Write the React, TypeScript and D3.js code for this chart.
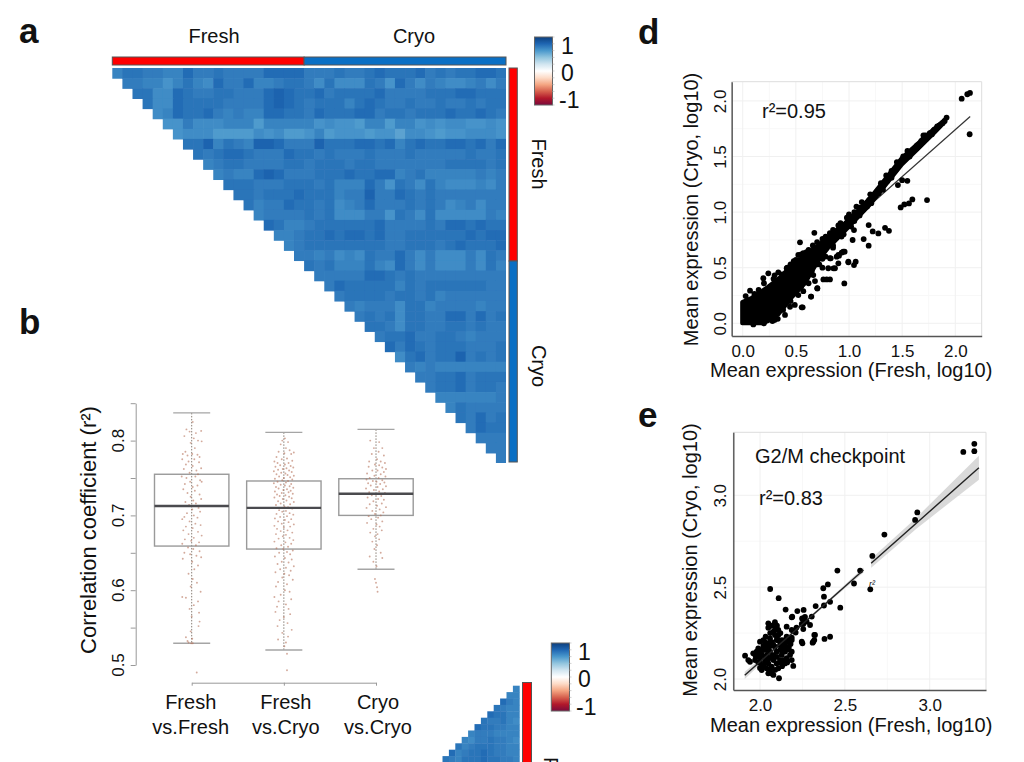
import React, { useEffect, useRef } from 'react';
import * as d3 from 'd3';

const FONT = '"Liberation Sans", Arial, sans-serif';

// heat levels: one digit per cell, 0 = strongest correlation, row r starts at column r
const freshCryoRows = [
  '422334413323333111133323321222132322112',
  '33446424513314432235255523613534554353',
  '2255123322333101221322221333322211222',
  '255122223333101232224212332332332322',
  '54122134344112231222113223222122123',
  '6635554447444446566744744656556656',
  '655577775657764766676685567665556',
  '22042340013330222112142122112131',
  '2321123331223233323332333332332',
  '432233332232223223333333222232',
  '43441013332221221143244444343',
  '2223332223244413623524555453',
  '223222122243303312323333333',
  '24331223254313332323543533',
  '4333323255533623525555534',
  '124432222221333323112122',
  '44322121121332222221211',
  '4322222222332223212221',
  '334354523313535553523',
  '23244424513535553524',
  '3333311232333333333',
  '312222242322222233',
  '32222322324333333',
  '3433352243333433',
  '323252233113132',
  '22352233223233',
  '3221332234333',
  '131232223332',
  '52132203232',
  '3434444444',
  '332213222',
  '32213223',
  '4444443',
  '423333',
  '23132',
  '3122',
  '333',
  '33',
  '3',
];
const secondRows = [
  '4',
  '44',
  '134',
  '2344',
  '12244',
  '233245',
  '1223344',
  '43334444',
  '453323345',
  '2432223344',
  '14322123344',
  '234222122334',
];
const groupLabels = ['Fresh', 'Cryo'];
const legendLabels = [1, 0, -1];
const colorStops = [-1, -0.8, -0.6, -0.4, -0.2, 0, 0.2, 0.4, 0.6, 0.8, 1];
const colorValues = ['#7a0a3c', '#b2182b', '#d6604d', '#f4a582', '#fddbc7', '#ffffff', '#d1e5f0', '#92c5de', '#4a98cc', '#1f66b2', '#0c3f7e'];

const boxNames = ['ff', 'fc', 'cc'];
const boxTop = ['Fresh', 'Fresh', 'Cryo'];
const boxBottom = ['vs.Fresh', 'vs.Cryo', 'vs.Cryo'];
const boxUpper = [0.837, 0.811, 0.815];
const boxQ3 = [0.755, 0.746, 0.749];
const boxMedian = [0.7126, 0.71, 0.729];
const boxQ1 = [0.659, 0.655, 0.7];
const boxLower = [0.529, 0.52, 0.628];

// [jitter, r2]
const ffPoints = [
  [0.1, 0.825], [-0.5, 0.815], [-0.2, 0.812], [0.4, 0.81], [0.9, 0.813], [-0.7, 0.806], [0.2, 0.803], [0.6, 0.8], [-0.1, 0.797], [0.95, 0.799],
  [0.3, 0.79], [-0.6, 0.785], [-0.85, 0.782], [-0.4, 0.78], [0.05, 0.782], [0.55, 0.781], [0.75, 0.778], [-0.9, 0.775], [-0.3, 0.772], [0.25, 0.775],
  [0.7, 0.771], [-0.55, 0.768], [0.1, 0.766], [0.9, 0.763], [-0.75, 0.762], [0.45, 0.76], [0.6, 0.755], [-0.2, 0.757], [-0.95, 0.752], [-0.5, 0.75],
  [0.35, 0.752], [0.8, 0.747], [0.95, 0.745], [-0.15, 0.745], [-0.65, 0.742], [0.1, 0.738], [0.55, 0.74], [-0.8, 0.735], [0.3, 0.733], [-0.4, 0.73],
  [0.75, 0.728], [-0.1, 0.725], [0.9, 0.722], [0.15, 0.72], [-0.6, 0.718], [0.4, 0.716], [-0.25, 0.714], [0.65, 0.71], [0.05, 0.708], [0.8, 0.705],
  [-0.45, 0.703], [0.2, 0.7], [-0.7, 0.698], [0.55, 0.697], [-0.9, 0.695], [-0.2, 0.692], [0.35, 0.689], [0.85, 0.687], [-0.55, 0.685], [0.1, 0.683],
  [-0.8, 0.68], [0.6, 0.678], [-0.3, 0.675], [0.95, 0.673], [0.2, 0.67], [-0.65, 0.668], [-0.05, 0.666], [0.7, 0.664], [-0.9, 0.662], [0.4, 0.66],
  [-0.35, 0.657], [0.15, 0.655], [0.75, 0.652], [-0.7, 0.65], [-0.15, 0.648], [0.45, 0.646], [0.9, 0.644], [-0.85, 0.642], [0.05, 0.638], [0.6, 0.633],
  [0.25, 0.628], [-0.3, 0.622], [0.1, 0.615], [0.5, 0.61], [-0.1, 0.605], [0.85, 0.598], [-0.55, 0.59], [-0.9, 0.591], [0.6, 0.585], [0.2, 0.58],
  [-0.2, 0.575], [0.7, 0.57], [0.0, 0.565], [0.75, 0.558], [0.65, 0.552], [-0.1, 0.545], [0.05, 0.535], [-0.55, 0.537], [-0.4, 0.532], [-0.3, 0.53],
  [0.1, 0.529], [-0.05, 0.529], [0.48, 0.49],
];
const fcPoints = [
  [0.1, 0.803], [-0.15, 0.8], [0.4, 0.798], [-0.3, 0.795], [0.2, 0.79], [0.55, 0.787], [-0.5, 0.785], [0.05, 0.783], [0.7, 0.782], [0.95, 0.784],
  [-0.7, 0.778], [0.3, 0.776], [-0.2, 0.775], [0.8, 0.773], [-0.9, 0.772], [0.45, 0.77], [-0.6, 0.77], [0.1, 0.768], [-0.35, 0.767], [0.65, 0.766],
  [-0.8, 0.765], [0.9, 0.764], [0.25, 0.763], [-0.1, 0.762], [-0.55, 0.761], [0.5, 0.76], [-0.95, 0.759], [0.75, 0.758], [-0.25, 0.757], [0.15, 0.756],
  [-0.7, 0.755], [0.35, 0.754], [0.95, 0.753], [-0.45, 0.752], [0.6, 0.751], [0.0, 0.75], [-0.85, 0.749], [0.8, 0.748], [-0.15, 0.747], [0.4, 0.746],
  [-0.6, 0.745], [0.2, 0.744], [-0.95, 0.743], [0.7, 0.742], [-0.3, 0.741], [0.1, 0.74], [0.55, 0.739], [-0.75, 0.738], [0.9, 0.737], [-0.5, 0.736],
  [0.3, 0.735], [-0.05, 0.734], [0.65, 0.733], [-0.85, 0.732], [0.45, 0.731], [-0.2, 0.73], [0.85, 0.729], [-0.65, 0.728], [0.15, 0.727], [-0.4, 0.726],
  [0.5, 0.725], [-0.9, 0.724], [0.75, 0.723], [-0.1, 0.722], [0.25, 0.72], [-0.55, 0.719], [0.95, 0.718], [-0.3, 0.716], [0.6, 0.715], [-0.75, 0.714],
  [0.05, 0.712], [0.4, 0.711], [-0.95, 0.71], [0.8, 0.709], [-0.45, 0.707], [0.2, 0.706], [-0.15, 0.705], [0.55, 0.703], [-0.7, 0.702], [0.9, 0.701],
  [0.3, 0.699], [-0.35, 0.698], [-0.85, 0.696], [0.7, 0.695], [0.1, 0.694], [-0.55, 0.692], [0.45, 0.691], [-0.2, 0.689], [0.95, 0.688], [-0.9, 0.686],
  [0.6, 0.685], [0.0, 0.684], [-0.65, 0.682], [0.35, 0.68], [-0.3, 0.679], [0.8, 0.677], [-0.75, 0.675], [0.2, 0.674], [-0.1, 0.672], [0.55, 0.67],
  [-0.5, 0.669], [0.9, 0.667], [-0.9, 0.665], [0.15, 0.664], [0.7, 0.662], [-0.25, 0.66], [0.4, 0.658], [-0.7, 0.656], [-0.05, 0.655], [0.85, 0.653],
  [0.3, 0.651], [-0.45, 0.65], [0.6, 0.648], [-0.85, 0.645], [0.1, 0.643], [0.75, 0.641], [-0.2, 0.638], [0.45, 0.637], [-0.6, 0.635], [0.95, 0.632],
  [0.2, 0.63], [-0.35, 0.628], [0.65, 0.626], [-0.8, 0.624], [0.05, 0.622], [0.5, 0.62], [-0.15, 0.617], [0.85, 0.614], [-0.55, 0.611], [0.3, 0.608],
  [-0.75, 0.605], [0.1, 0.6], [0.55, 0.598], [-0.3, 0.594], [-0.9, 0.591], [0.7, 0.588], [-0.5, 0.585], [0.2, 0.581], [-0.65, 0.578], [0.45, 0.575],
  [-0.8, 0.571], [0.6, 0.568], [0.0, 0.564], [-0.4, 0.56], [0.35, 0.556], [-0.6, 0.552], [0.75, 0.547], [-0.15, 0.543], [0.4, 0.538], [-0.55, 0.534],
  [0.2, 0.53], [0.05, 0.525], [0.3, 0.515], [0.3, 0.493],
];
const ccPoints = [
  [-0.55, 0.8], [0.3, 0.798], [-0.2, 0.79], [0.6, 0.79], [0.25, 0.785], [-0.4, 0.782], [0.75, 0.78], [0.1, 0.775], [-0.65, 0.772], [0.45, 0.772],
  [0.85, 0.77], [-0.1, 0.768], [0.3, 0.767], [-0.7, 0.765], [0.6, 0.764], [0.95, 0.762], [-0.35, 0.76], [0.15, 0.76], [0.75, 0.758], [-0.85, 0.756],
  [0.45, 0.755], [-0.15, 0.753], [0.9, 0.752], [-0.6, 0.75], [0.25, 0.75], [-0.9, 0.748], [0.6, 0.747], [-0.3, 0.746], [0.05, 0.745], [0.8, 0.744],
  [-0.75, 0.743], [0.4, 0.742], [-0.5, 0.74], [0.95, 0.739], [0.15, 0.738], [-0.95, 0.736], [0.65, 0.735], [-0.2, 0.734], [0.3, 0.732], [-0.65, 0.731],
  [0.85, 0.73], [0.0, 0.728], [-0.4, 0.727], [0.5, 0.726], [-0.8, 0.724], [0.2, 0.722], [0.75, 0.721], [-0.25, 0.719], [0.55, 0.716], [-0.6, 0.715],
  [0.1, 0.713], [0.95, 0.711], [-0.9, 0.71], [0.35, 0.708], [-0.35, 0.706], [0.7, 0.704], [-0.1, 0.702], [0.45, 0.7], [-0.7, 0.699], [0.2, 0.697],
  [-0.45, 0.695], [0.6, 0.692], [-0.85, 0.69], [0.05, 0.688], [0.35, 0.685], [-0.25, 0.682], [0.55, 0.68], [-0.55, 0.677], [0.15, 0.675], [-0.1, 0.672],
  [0.3, 0.668], [-0.35, 0.665], [0.1, 0.66], [-0.15, 0.655], [0.45, 0.65], [-0.6, 0.645], [0.6, 0.643], [-0.25, 0.638], [0.05, 0.632], [-0.1, 0.615],
  [0.0, 0.61], [0.1, 0.604], [0.15, 0.598],
];
const boxPoints = [ffPoints, fcPoints, ccPoints];

const expressionTitleX = 'Mean expression (Fresh, log10)';
const expressionTitleY = 'Mean expression (Cryo, log10)';

// panel d, the overplotted core of the cloud: [fresh, cryo low, cryo high]
const dCore = [
  [-0.005, 0.0, 0.19], [0.085, 0.0, 0.23], [0.18, 0.0, 0.29], [0.24, 0.02, 0.33], [0.335, 0.08, 0.4], [0.46, 0.23, 0.52],
  [0.586, 0.36, 0.61], [0.71, 0.56, 0.7], [0.805, 0.68, 0.78], [0.868, 0.74, 0.83], [0.96, 0.83, 0.9], [1.09, 0.96, 1.02],
  [1.2, 1.07, 1.13], [1.35, 1.25, 1.31], [1.5, 1.43, 1.49], [1.65, 1.57, 1.62], [1.8, 1.71, 1.75], [1.9, 1.81, 1.83],
];
const dPoints = [
  [0.028, 0.245], [0.069, 0.293], [0.194, 0.405], [0.241, 0.449], [0.335, 0.458], [0.414, 0.495], [0.539, 0.728], [0.674, 0.814], [0.57, 0.63], [0.523, 0.614],
  [0.11, 0.265], [0.15, 0.3], [0.29, 0.4], [0.37, 0.44], [0.45, 0.53], [0.48, 0.56], [0.62, 0.66], [0.66, 0.7], [0.75, 0.76], [0.82, 0.81],
  [0.9, 0.88], [0.98, 0.95], [0.28, 0.02], [0.33, 0.04], [0.398, 0.075], [0.445, 0.149], [0.49, 0.165], [0.564, 0.144], [0.523, 0.254], [0.57, 0.289],
  [0.643, 0.24], [0.702, 0.315], [0.664, 0.434], [0.68, 0.38], [0.62, 0.36], [0.6, 0.41], [0.821, 0.585], [0.9, 0.614], [0.946, 0.644], [0.994, 0.554],
  [0.805, 0.495], [0.868, 0.495], [0.75, 0.5], [0.72, 0.53], [0.78, 0.6], [0.85, 0.68], [0.93, 0.78], [1.02, 0.87], [1.05, 0.92], [1.1, 0.97],
  [1.05, 1.0], [1.08, 0.99], [1.1, 1.04], [1.13, 1.02], [1.15, 1.07], [1.17, 1.05], [1.19, 1.11], [1.21, 1.08], [1.22, 1.13], [1.25, 1.15],
  [1.26, 1.18], [1.28, 1.17], [1.3, 1.22], [1.32, 1.2], [1.33, 1.26], [1.36, 1.28], [1.38, 1.32], [1.4, 1.31], [1.42, 1.36], [1.44, 1.38],
  [1.46, 1.41], [1.48, 1.44], [1.5, 1.46], [1.51, 1.5], [1.53, 1.48], [1.55, 1.52], [1.57, 1.5], [1.58, 1.54], [1.62, 1.57], [1.64, 1.6],
  [1.66, 1.61], [1.68, 1.64], [1.7, 1.66], [1.72, 1.69], [1.74, 1.68], [1.76, 1.71], [1.78, 1.7], [1.8, 1.74], [1.83, 1.77], [1.85, 1.78],
  [1.88, 1.8], [1.9, 1.82], [1.918, 1.85], [2.06, 2.02], [2.113, 2.06], [2.138, 2.072], [2.135, 1.7], [1.734, 1.108], [1.596, 1.114], [1.564, 1.078],
  [1.52, 1.069], [1.486, 1.042], [1.549, 1.281], [1.5, 1.287], [1.46, 1.243], [1.376, 0.832], [1.339, 0.859], [1.276, 0.808], [1.223, 0.826], [1.185, 0.883],
  [1.138, 0.757], [1.185, 0.698], [1.047, 0.838], [1.034, 0.749], [0.959, 0.644], [0.931, 0.635], [0.906, 0.608], [0.884, 0.599], [0.828, 0.584], [0.9, 0.539],
  [0.994, 0.548], [1.063, 0.554], [1.047, 0.524], [0.956, 0.359], [0.853, 0.494], [0.821, 0.395], [0.79, 0.395], [0.759, 0.395], [0.702, 0.314], [0.643, 0.24],
  [0.555, 0.144], [0.2, 0.36], [0.3, 0.43], [0.42, 0.5], [0.5, 0.57], [0.55, 0.62], [0.6, 0.64], [0.7, 0.73], [0.78, 0.78], [0.85, 0.84],
  [0.92, 0.9], [1.0, 0.98], [1.07, 1.05], [1.12, 1.09], [1.2, 1.16], [1.3, 1.26], [1.4, 1.37], [1.55, 1.55], [1.6, 1.56], [1.7, 1.69],
  [1.45, 1.45], [1.35, 1.33], [0.5, 0.28], [0.55, 0.33], [0.65, 0.47], [0.7, 0.53], [0.75, 0.58], [0.85, 0.7], [0.95, 0.8], [0.45, 0.2],
  [0.38, 0.12], [0.3, 0.03], [0.2, 0.0], [0.1, -0.01],
];
const dFit = [[0, 0.051], [2.14, 1.86]];

const ePoints = [
  [3.198, 3.236], [3.263, 3.24], [3.263, 3.28], [2.927, 2.907], [2.914, 2.866], [2.733, 2.786], [2.662, 2.67], [2.65, 2.488], [2.456, 2.59], [2.554, 2.52],
  [2.59, 2.59], [2.4, 2.515], [2.373, 2.494], [2.377, 2.448], [2.473, 2.388], [2.413, 2.42], [2.328, 2.397], [2.377, 2.4], [2.305, 2.34], [2.413, 2.23],
  [2.38, 2.218], [2.32, 2.24], [2.32, 2.212], [2.31, 2.198], [2.06, 2.49], [2.11, 2.44], [2.151, 2.378], [2.22, 2.37], [2.257, 2.376], [2.248, 2.33],
  [2.265, 2.338], [2.187, 2.336], [2.295, 2.294], [2.246, 2.3], [2.255, 2.272], [2.215, 2.28], [2.196, 2.262], [2.246, 2.203], [2.25, 2.194], [2.187, 2.225],
  [2.172, 2.208], [1.912, 2.127], [1.931, 2.103], [1.941, 2.094], [1.98, 2.149], [1.99, 2.167], [1.974, 2.125], [2.0, 2.203], [2.02, 2.212], [2.033, 2.23],
  [2.049, 2.303], [2.088, 2.309], [2.049, 2.279], [2.092, 2.276], [2.108, 2.267], [2.108, 2.24], [2.088, 2.24], [2.098, 2.212], [2.079, 2.185], [2.049, 2.194],
  [2.029, 2.185], [2.0, 2.149], [2.01, 2.131], [2.039, 2.158], [2.059, 2.149], [2.088, 2.176], [2.118, 2.185], [2.138, 2.167], [2.147, 2.149], [2.128, 2.131],
  [2.157, 2.113], [2.138, 2.103], [2.177, 2.131], [2.187, 2.149], [2.187, 2.103], [2.196, 2.071], [2.147, 2.085], [2.098, 2.085], [2.108, 2.058], [2.049, 2.085],
  [2.039, 2.058], [2.02, 2.076], [2.0, 2.094], [2.01, 2.049], [2.049, 2.031], [2.079, 2.022], [2.112, 2.004], [2.069, 2.067], [1.971, 2.103], [2.157, 2.23],
  [2.187, 2.212], [2.187, 2.267], [2.167, 2.203], [2.157, 2.285], [2.069, 2.122], [2.02, 2.158], [2.098, 2.149], [2.118, 2.103], [2.079, 2.103], [1.99, 2.122],
  [2.03, 2.113], [2.128, 2.212], [2.138, 2.194], [2.059, 2.221], [2.079, 2.258], [2.19, 2.339], [2.255, 2.33], [2.275, 2.312], [2.255, 2.3], [2.314, 2.203],
  [2.324, 2.24], [2.21, 2.253], [2.0, 2.12], [1.96, 2.14], [2.03, 2.2], [2.06, 2.18], [2.07, 2.2], [2.1, 2.23], [2.12, 2.25], [2.1, 2.29],
  [2.07, 2.29], [2.12, 2.16], [2.15, 2.18], [2.16, 2.16], [2.13, 2.15], [2.05, 2.11], [2.04, 2.13], [2.08, 2.13], [2.1, 2.12], [2.12, 2.09],
  [2.09, 2.05], [2.06, 2.05], [2.03, 2.09], [2.01, 2.07], [2.0, 2.06], [1.99, 2.09], [2.17, 2.17], [2.06, 2.25], [2.02, 2.18], [2.05, 2.17],
  [2.18, 2.19], [2.14, 2.21], [2.11, 2.21], [2.16, 2.09], [2.13, 2.07], [2.07, 2.03],
];
const eFitEnds = [[1.91, 2.02], [3.29, 3.15]];
const ribbonLeftX = [1.91, 2.1, 2.4, 2.61];
const ribbonLeftHalf = [0.02, 0.01, 0.008, 0.014];
const ribbonRightX = [2.655, 2.92, 3.29];
const ribbonRightHalf = [0.024, 0.03, 0.065];
const eGapAt = [2.61, 2.655];

const cellColor = d3.scaleLinear<string>().domain(colorStops).range(colorValues);
const levelValue = (d: string) => 0.81 - +d * 0.032;

const setText = (sel: any, size: number) =>
  sel.attr('font-family', FONT).attr('font-size', size).attr('fill', '#111');

function addText(g: any, x: number, y: number, text: string, size: number, opts: any = {}) {
  const t = g.append('text').text(text);
  setText(t, size);
  t.attr('text-anchor', opts.anchor || 'start');
  if (opts.weight) t.attr('font-weight', opts.weight);
  if (opts.rotate) t.attr('transform', `translate(${x},${y}) rotate(${opts.rotate})`);
  else t.attr('x', x).attr('y', y);
  return t;
}

function drawLegend(svg: any, id: string, x0: number, x1: number, y0: number, y1: number, y1Label: number, yMinus1: number) {
  const defs = svg.append('defs');
  const grad = defs.append('linearGradient').attr('id', id).attr('x1', 0).attr('x2', 0).attr('y1', 1).attr('y2', 0);
  colorStops.forEach((s, i) => {
    grad.append('stop').attr('offset', `${((s + 1) / 2) * 100}%`).attr('stop-color', colorValues[i]);
  });
  svg.append('rect').attr('x', x0).attr('y', y0).attr('width', x1 - x0).attr('height', y1 - y0)
    .attr('fill', `url(#${id})`).attr('stroke', '#666').attr('stroke-width', 1);
  const ly = d3.scaleLinear().domain([1, -1]).range([y1Label, yMinus1]);
  const tickY = d3.scaleLinear().domain([1.25, -1.25]).range([y0, y1]);
  d3.range(-1.25, 1.26, 0.25).forEach((v: number) => {
    svg.append('line').attr('x1', x1).attr('x2', x1 + 2).attr('y1', tickY(v)).attr('y2', tickY(v))
      .attr('stroke', '#bbb').attr('stroke-width', 0.7);
  });
  legendLabels.forEach((v) => {
    addText(svg, x1 + (v < 0 ? 6.5 : 8.5), ly(v) + 8.3, String(v), 23);
  });
}

function drawHeat(svg: any) {
  const cols = d3.range(freshCryoRows.length);
  const x = d3.scaleBand<number>().domain(cols).range([112.3, 506]);
  const y = d3.scaleBand<number>().domain(cols).range([68, 463]);
  const g = svg.append('g').attr('filter', 'url(#soft)');
  freshCryoRows.forEach((row, r) => {
    row.split('').forEach((d, i) => {
      const isLastCol = r + i === cols.length - 1;
      g.append('rect').attr('x', x(r + i)).attr('y', y(r)).attr('width', x.bandwidth() + (isLastCol ? 0 : 0.6)).attr('height', y.bandwidth() + (r === cols.length - 1 ? 0 : 0.6))
        .attr('fill', cellColor(levelValue(d)));
    });
  });

  const annot = (ax: number, ay: number, w: number, h: number, c: string) =>
    svg.append('rect').attr('x', ax).attr('y', ay).attr('width', w).attr('height', h).attr('fill', c)
      .attr('stroke', '#555').attr('stroke-width', 1);
  const split = x(freshCryoRows.length - 20) as number;
  annot(112.3, 57, split - 112.3, 8, '#ff0000');
  annot(split, 57, 506 - split, 8, '#0a6fc4');
  const splitY = 261;
  annot(509, 68, 8.3, splitY - 68, '#ff0000');
  annot(509, splitY, 8.3, 462 - splitY, '#0a6fc4');

  addText(svg, 214, 43, groupLabels[0], 20, { anchor: 'middle' });
  addText(svg, 414, 43, groupLabels[1], 20, { anchor: 'middle' });
  addText(svg, 532, 164, groupLabels[0], 20, { anchor: 'middle', rotate: 90 });
  addText(svg, 532, 366, groupLabels[1], 20, { anchor: 'middle', rotate: 90 });

  // the second matrix, only its top corner is inside the picture
  const cell = 6.4;
  const g2 = svg.append('g').attr('filter', 'url(#soft)');
  const rx = d3.scaleLinear().domain([0, 12]).range([519.3 - 12 * cell, 519.3]);
  const ry = d3.scaleLinear().domain([0, 12]).range([685.7, 685.7 + 12 * cell]);
  secondRows.forEach((row, r) => {
    row.split('').forEach((d, i) => {
      g2.append('rect').attr('x', rx(12 - row.length + i)).attr('y', ry(r)).attr('width', cell + 0.4).attr('height', cell + 0.4)
        .attr('fill', cellColor(levelValue(d)));
    });
  });
  annot(522.5, 682.5, 9, 90, '#ff0000');
  addText(svg, 544, 757, groupLabels[0], 20, { rotate: 90 });
}

function drawBoxes(svg: any) {
  const y = d3.scaleLinear().domain([0.5, 0.85]).range([665, 403.2]);
  const x = d3.scalePoint<string>().domain(boxNames).range([191.7, 376]);
  const jitter = d3.scaleLinear().domain([-1, 1]).range([-10.5, 10.5]);
  const halfBox = 37.2;
  const halfCap = 18.5;

  const yAxis = d3.axisLeft(y)
    .tickValues([0.5, 0.55, 0.6, 0.65, 0.7, 0.75, 0.8, 0.85])
    .tickSize(5).tickSizeOuter(0).tickFormat(() => '');
  const ya = svg.append('g').attr('transform', 'translate(135.7,0)').call(yAxis);
  ya.selectAll('path,line').attr('stroke', '#999').attr('stroke-width', 1);
  [0.5, 0.6, 0.7, 0.8].forEach((v) => {
    addText(svg, 123.5, y(v), v.toFixed(1), 17, { anchor: 'middle', rotate: -90 });
  });
  addText(svg, 96, 530, 'Correlation coefficient (r²)', 22, { anchor: 'middle', rotate: -90 });

  const xAxis = d3.axisBottom(x).tickSize(3).tickSizeOuter(0).tickFormat(() => '');
  const xa = svg.append('g').attr('transform', 'translate(0,682.7)').call(xAxis);
  xa.selectAll('path,line').attr('stroke', '#999').attr('stroke-width', 1);

  boxNames.forEach((name, i) => {
    const cx = x(name) as number;
    const g = svg.append('g');
    g.append('line').attr('x1', cx).attr('x2', cx).attr('y1', y(boxUpper[i])).attr('y2', y(boxLower[i]))
      .attr('stroke', '#8a8078').attr('stroke-width', 1).attr('stroke-dasharray', '1.5 1.5');
    [boxUpper[i], boxLower[i]].forEach((v) => {
      g.append('line').attr('x1', cx - halfCap).attr('x2', cx + halfCap).attr('y1', y(v)).attr('y2', y(v))
        .attr('stroke', '#a5a5a5').attr('stroke-width', 1.4);
    });
    g.append('rect').attr('x', cx - halfBox).attr('width', halfBox * 2).attr('y', y(boxQ3[i])).attr('height', y(boxQ1[i]) - y(boxQ3[i]))
      .attr('fill', 'none').attr('stroke', '#9a9a9a').attr('stroke-width', 1.4);
    g.selectAll('circle').data(boxPoints[i]).enter().append('circle')
      .attr('cx', (d: number[]) => cx + jitter(d[0])).attr('cy', (d: number[]) => y(d[1])).attr('r', 0.95)
      .attr('fill', '#b5715a').attr('fill-opacity', 0.6);
    g.append('line').attr('x1', cx - halfBox).attr('x2', cx + halfBox).attr('y1', y(boxMedian[i])).attr('y2', y(boxMedian[i]))
      .attr('stroke', '#4a4a4e').attr('stroke-width', 2.4);
    addText(svg, cx + (i === 0 ? -1 : 2), 708.5, boxTop[i], 20, { anchor: 'middle' });
    addText(svg, cx + (i === 0 ? -1 : 2), 733.5, boxBottom[i], 20, { anchor: 'middle' });
  });
}

function drawFrame(svg: any, x: any, y: any, ticksX: number[], ticksY: number[], minorX: number[], minorY: number[], yLabelCenter: number, xBase: number, yBase: number, xTitleY: number) {
  const [l, r] = x.range();
  const [b, t] = y.range();
  const grid = svg.append('g');
  minorX.forEach((v) => grid.append('line').attr('x1', x(v)).attr('x2', x(v)).attr('y1', b).attr('y2', t).attr('stroke', '#f8f8f8'));
  minorY.forEach((v) => grid.append('line').attr('x1', l).attr('x2', r).attr('y1', y(v)).attr('y2', y(v)).attr('stroke', '#f8f8f8'));
  ticksX.forEach((v) => grid.append('line').attr('x1', x(v)).attr('x2', x(v)).attr('y1', b).attr('y2', t).attr('stroke', '#f0f0f0'));
  ticksY.forEach((v) => grid.append('line').attr('x1', l).attr('x2', r).attr('y1', y(v)).attr('y2', y(v)).attr('stroke', '#f0f0f0'));
  svg.append('path').attr('d', `M${l},${b}V${t}H${r}V${b}`).attr('fill', 'none').attr('stroke', '#dddddd');
  const xAxis = d3.axisBottom(x).tickValues(ticksX).tickSize(0).tickPadding(9).tickFormat((d: any) => d3.format('.1f')(d));
  const xg = svg.append('g').attr('transform', `translate(0,${b})`).call(xAxis);
  xg.select('.domain').attr('stroke', '#555').attr('stroke-width', 1.4);
  xg.selectAll('text').attr('font-family', FONT).attr('font-size', 17).attr('fill', '#111');
  const yAxis = d3.axisLeft(y).tickValues(ticksY).tickSize(0).tickFormat((d: any) => d3.format('.1f')(d));
  const yg = svg.append('g').attr('transform', `translate(${l},0)`).call(yAxis);
  yg.select('.domain').attr('stroke', '#555').attr('stroke-width', 1.4);
  yg.selectAll('text').attr('font-family', FONT).attr('font-size', 17).attr('fill', '#111')
    .attr('text-anchor', 'middle').attr('dy', 0).attr('x', 0)
    .attr('transform', `translate(${yBase - l},0) rotate(-90)`);
  addText(svg, 710, xTitleY, expressionTitleX, 20);
  addText(svg, xBase, yLabelCenter, expressionTitleY, 20, { anchor: 'middle', rotate: -90 });
}

function drawPanelD(svg: any) {
  const x = d3.scaleLinear().domain([(731.7 - 742.7) / 106.3, (981.7 - 742.7) / 106.3]).range([731.7, 981.7]);
  const y = d3.scaleLinear().domain([(323.3 - 336) / 111.2, (323.3 - 81.7) / 111.2]).range([336, 81.7]);
  drawFrame(svg, x, y, [0, 0.5, 1, 1.5, 2], [0, 0.5, 1, 1.5, 2], [0.25, 0.75, 1.25, 1.75], [0.25, 0.75, 1.25, 1.75], 209.5, 698, 726, 376.5);
  svg.append('path').attr('d', d3.line<number[]>().x((d) => x(d[0])).y((d) => y(d[1]))(dFit)).attr('fill', 'none').attr('stroke', '#333').attr('stroke-width', 1.2);
  const area = d3.area<number[]>().x((d) => x(d[0])).y0((d) => y(d[1])).y1((d) => y(d[2]));
  svg.append('path').attr('d', area(dCore)).attr('fill', '#000').attr('stroke', '#000').attr('stroke-width', 4).attr('stroke-linejoin', 'round');
  svg.append('g').selectAll('circle').data(dPoints).enter().append('circle')
    .attr('cx', (d: number[]) => x(d[0])).attr('cy', (d: number[]) => y(d[1])).attr('r', 2.9).attr('fill', '#000');
  addText(svg, 762, 117.5, 'r²=0.95', 20);
}

function drawPanelE(svg: any) {
  const x = d3.scaleLinear().domain([2 + (733.3 - 760) / 169.7, 2 + (986 - 760) / 169.7]).range([733.3, 986]);
  const y = d3.scaleLinear().domain([2 + (679 - 690) / 183.7, 2 + (679 - 432.3) / 183.7]).range([690, 432.3]);
  drawFrame(svg, x, y, [2, 2.5, 3], [2, 2.5, 3], [2.25, 2.75], [2.25, 2.75], 560, 697, 726, 731.5);
  const fit = d3.scaleLinear().domain([eFitEnds[0][0], eFitEnds[1][0]]).range([eFitEnds[0][1], eFitEnds[1][1]]);
  const ribbon = d3.area<number>().x((d) => x(d[0])).y0((d) => y(fit(d[0]) - d[1])).y1((d) => y(fit(d[0]) + d[1]));
  [[ribbonLeftX, ribbonLeftHalf], [ribbonRightX, ribbonRightHalf]].forEach(([xs, hs]) => {
    svg.append('path').attr('d', ribbon(xs.map((v, i) => [v, hs[i]]) as any)).attr('fill', '#d9d9d9');
  });
  svg.append('g').selectAll('circle').data(ePoints).enter().append('circle')
    .attr('cx', (d: number[]) => x(d[0])).attr('cy', (d: number[]) => y(d[1])).attr('r', 2.9).attr('fill', '#000');
  [[eFitEnds[0][0], eGapAt[0]], [eGapAt[1], eFitEnds[1][0]]].forEach(([a, b]) => {
    svg.append('line').attr('x1', x(a)).attr('x2', x(b)).attr('y1', y(fit(a))).attr('y2', y(fit(b)))
      .attr('stroke', '#222').attr('stroke-width', 1.4);
  });
  addText(svg, 755, 463, 'G2/M checkpoint', 20);
  addText(svg, 759, 505, 'r²=0.83', 20);
  addText(svg, 869, 587, 'r²', 9).attr('font-style', 'italic');
}

export default function App() {
  const svgRef = useRef<SVGSVGElement>(null);

  useEffect(() => {
    if (!svgRef.current) return;
    const svg = d3.select(svgRef.current);
    svg.selectAll('*').remove();

    const soft = svg.append('defs').append('filter').attr('id', 'soft');
    soft.append('feGaussianBlur').attr('stdDeviation', 0.45);

    addText(svg, 19, 43, 'a', 35, { weight: 'bold' });
    addText(svg, 19, 334, 'b', 35, { weight: 'bold' });
    addText(svg, 638, 44, 'd', 35, { weight: 'bold' });
    addText(svg, 638, 427, 'e', 35, { weight: 'bold' });

    drawHeat(svg);
    drawLegend(svg, 'legendTop', 534.5, 552.5, 37, 105, 45.7, 100);
    drawLegend(svg, 'legendBottom', 551.3, 569.5, 643, 711, 651.5, 706.7);
    drawBoxes(svg);
    drawPanelD(svg);
    drawPanelE(svg);
  }, []);

  return (
    <svg
      ref={svgRef}
      width={1024}
      height={762}
      style={{ position: 'absolute', left: 0, top: 0, background: '#fff', overflow: 'hidden' }}
    />
  );
}
